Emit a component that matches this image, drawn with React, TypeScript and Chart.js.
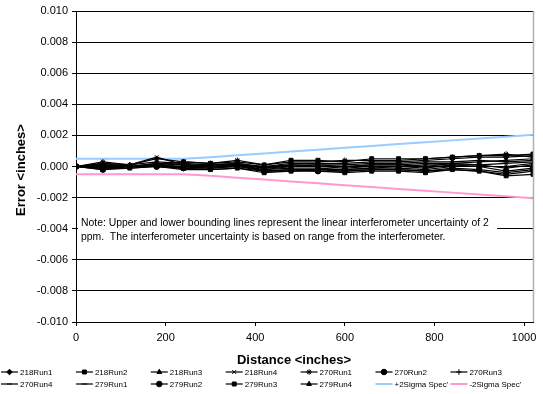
import React, { useEffect, useRef } from 'react';
import { Chart, registerables } from 'chart.js';
import { drawPoint } from 'chart.js/helpers';

Chart.register(...registerables);

const distances = [0, 60, 120, 180, 240, 300, 360, 420, 480, 540, 600, 660, 720, 780, 840, 900, 960, 1020];

const run218_1 = [0, 0.0001, 0, 0.0002, 0.0001, 0.0001, 0.0002, 0, 0.0002, 0.0002, 0.0002, 0.0003, 0.0003, 0.0004, 0.0005, 0.0006, 0.0006, 0.0007];
const run218_2 = [0, -0.0001, 0, 0.0001, 0.0003, 0.0002, 0.0003, 0.0001, 0.0004, 0.0004, 0.0003, 0.0005, 0.0005, 0.0005, 0.0006, 0.0007, 0.0007, 0.0008];
const run218_3 = [0, 0.0002, 0.0001, 0.0003, 0.0002, 0.0001, 0.0002, -0.0001, 0.0001, 0.0001, 0, 0.0001, 0.0001, 0.0002, 0.0002, 0.0003, 0.0004, 0.0005];
const run218_4 = [0, 0, 0.0001, 0.0006, 0.0001, 0, 0.0001, -0.0002, 0, 0, -0.0001, 0, 0, 0.0001, 0.0001, 0.0001, 0.0002, 0.0003];
const run270_1 = [0, 0.0003, 0.0001, 0.0005, 0.0003, 0.0002, 0.0004, 0.0001, 0.0003, 0.0003, 0.0004, 0.0004, 0.0004, 0.0005, 0.0006, 0.0007, 0.0008, 0.0006];
const run270_2 = [0, -0.0002, 0, 0, -0.0001, 0, 0.0001, -0.0003, -0.0002, -0.0002, -0.0002, -0.0001, -0.0001, -0.0002, 0, 0, -0.0003, -0.0001];
const run270_3 = [0, 0.0001, 0, 0.0001, 0, -0.0001, 0, -0.0002, -0.0001, -0.0001, -0.0002, -0.0001, 0, -0.0001, 0.0001, 0, 0, 0.0002];
const run270_4 = [0, -0.0001, -0.0001, 0, -0.0002, -0.0002, -0.0001, -0.0003, -0.0003, -0.0002, -0.0003, -0.0002, -0.0002, -0.0003, -0.0002, -0.0003, -0.0005, -0.0003];
const run279_1 = [0, 0.0002, 0, 0.0001, 0, 0.0001, 0.0001, -0.0001, 0, 0.0001, 0.0001, 0.0002, 0.0002, 0.0003, 0.0003, 0.0004, 0.0003, 0.0004];
const run279_2 = [0, -0.0001, 0, 0, -0.0001, -0.0001, 0, -0.0003, -0.0002, -0.0003, -0.0003, -0.0002, -0.0002, -0.0003, -0.0001, -0.0002, -0.0004, -0.0002];
const run279_3 = [0, -0.0002, -0.0001, 0, -0.0001, -0.0002, -0.0001, -0.0004, -0.0003, -0.0003, -0.0004, -0.0003, -0.0003, -0.0004, -0.0002, -0.0003, -0.0006, -0.0005];
const run279_4 = [0, 0.0001, 0, 0.0002, 0.0001, 0, 0.0001, 0, 0.0001, 0, 0, 0.0001, 0.0001, 0, 0.0002, 0.0001, -0.0001, 0.0001];
const plusSigma = [0.0005, 0.0005, 0.0005, 0.0005, 0.0005, 0.0006, 0.00072, 0.00084, 0.00096, 0.00108, 0.0012, 0.00132, 0.00144, 0.00156, 0.00168, 0.0018, 0.00192, 0.00204];
const minusSigma = [-0.0005, -0.0005, -0.0005, -0.0005, -0.0005, -0.0006, -0.00072, -0.00084, -0.00096, -0.00108, -0.0012, -0.00132, -0.00144, -0.00156, -0.00168, -0.0018, -0.00192, -0.00204];

const runNames = ['218Run1', '218Run2', '218Run3', '218Run4', '270Run1', '270Run2', '270Run3', '270Run4', '279Run1', '279Run2', '279Run3', '279Run4'];
const runValues = [run218_1, run218_2, run218_3, run218_4, run270_1, run270_2, run270_3, run270_4, run279_1, run279_2, run279_3, run279_4];
const runStyles = ['rectRot', 'rect', 'triangle', 'crossRot', 'star', 'circle', 'cross', 'line', 'line', 'circle', 'rect', 'triangle'];
const sigmaNames = ['+2Sigma Spec\'', '-2Sigma Spec\''];
const sigmaColors = ['#99CCFF', '#FF99CC'];

const yRange = { min: -0.01, max: 0.01, step: 0.002 };
const xRange = { min: 0, max: 1020 };
const xTickValues = [0, 200, 400, 600, 800, 1000];

const noteLines = [
  'Note: Upper and lower bounding lines represent the linear interferometer uncertainty of 2',
  'ppm.  The interferometer uncertainty is based on range from the interferometer.',
];

const FONT = '"Liberation Sans", Arial, sans-serif';

const extrasPlugin = {
  id: 'extras',
  beforeDatasetsDraw(chart: any) {
    const ctx = chart.ctx;
    ctx.save();
    ctx.fillStyle = '#ffffff';
    ctx.fillRect(78, 214, 419, 31);
    ctx.fillStyle = '#000';
    ctx.font = `10.4px ${FONT}`;
    ctx.textBaseline = 'middle';
    ctx.textAlign = 'left';
    ctx.fillText(noteLines[0], 81, 223);
    ctx.fillText(noteLines[1], 81, 237);
    ctx.restore();
  },
  afterDraw(chart: any) {
    const ctx = chart.ctx;
    const a = chart.chartArea;
    ctx.save();
    ctx.strokeStyle = '#b0b0b0';
    ctx.lineWidth = 1.5;
    ctx.beginPath();
    ctx.moveTo(a.right + 0.5, a.top);
    ctx.lineTo(a.right + 0.5, a.bottom);
    ctx.stroke();

    ctx.fillStyle = '#000';
    ctx.font = `bold 13px ${FONT}`;
    ctx.textAlign = 'center';
    ctx.textBaseline = 'middle';
    ctx.fillText('Distance <inches>', 294, 360);
    ctx.save();
    ctx.translate(21, 170);
    ctx.rotate(-Math.PI / 2);
    ctx.fillText('Error <inches>', 0, 0);
    ctx.restore();

    // legend
    const items: any[] = [];
    runNames.forEach((n, i) => items.push({ name: n, style: runStyles[i], color: '#000', width: 1.2 }));
    sigmaNames.forEach((n, i) => items.push({ name: n, style: null, color: sigmaColors[i], width: 2 }));
    ctx.font = `8px ${FONT}`;
    ctx.textAlign = 'left';
    items.forEach((it, i) => {
      const col = i % 7;
      const row = Math.floor(i / 7);
      const x0 = 1 + col * 74.9;
      const y = 372 + row * 12;
      ctx.strokeStyle = it.color;
      ctx.lineWidth = it.width;
      ctx.beginPath();
      ctx.moveTo(x0, y);
      ctx.lineTo(x0 + 17, y);
      ctx.stroke();
      if (it.style) {
        ctx.fillStyle = '#000';
        ctx.strokeStyle = '#000';
        ctx.lineWidth = 1;
        drawPoint(ctx, { pointStyle: it.style, radius: 2.8, rotation: 0, borderWidth: 1 } as any, x0 + 8.5, y);
      }
      ctx.fillStyle = '#000';
      ctx.fillText(it.name, x0 + 19, y + 0.5);
    });
    ctx.restore();
  },
};

export default function App() {
  const ref = useRef<HTMLCanvasElement | null>(null);
  useEffect(() => {
    document.body.style.margin = '0';
    const canvas = ref.current!;
    const datasets: any[] = runNames.map((n, i) => ({
      label: n,
      data: distances.map((d, j) => ({ x: d, y: runValues[i][j] })),
      borderColor: '#000',
      backgroundColor: '#000',
      borderWidth: 1.2,
      pointStyle: runStyles[i],
      pointRadius: 2.8,
      pointBorderWidth: 1,
      pointBorderColor: '#000',
      pointBackgroundColor: '#000',
      tension: 0,
    }));
    sigmaNames.forEach((n, i) => {
      datasets.push({
        label: n,
        data: distances.map((d, j) => ({ x: d, y: (i === 0 ? plusSigma : minusSigma)[j] })),
        borderColor: sigmaColors[i],
        backgroundColor: sigmaColors[i],
        borderWidth: 2,
        pointRadius: 0,
        tension: 0,
      });
    });
    const chart = new Chart(canvas, {
      type: 'line',
      data: { datasets },
      plugins: [extrasPlugin],
      options: {
        responsive: false,
        animation: false,
        devicePixelRatio: 1,
        layout: { padding: { left: 0, right: 10, top: 11, bottom: 0 } },
        plugins: { legend: { display: false }, tooltip: { enabled: false } },
        scales: {
          x: {
            type: 'linear',
            min: xRange.min,
            max: xRange.max,
            afterFit: (s: any) => { s.height = 72; },
            afterBuildTicks: (s: any) => { s.ticks = xTickValues.map((v) => ({ value: v })); },
            grid: { drawOnChartArea: false, drawTicks: true, tickLength: 4, color: '#000' },
            border: { color: '#000', width: 1 },
            ticks: {
              maxRotation: 0,
              autoSkip: false,
              padding: 5,
              color: '#000',
              font: { family: FONT, size: 11 },
              callback: (v: any) => String(v),
            },
          },
          y: {
            type: 'linear',
            min: yRange.min,
            max: yRange.max,
            afterFit: (s: any) => { s.width = 76; },
            grid: { color: '#000', tickLength: 4, lineWidth: 1 },
            border: { color: '#000', width: 1 },
            ticks: {
              stepSize: yRange.step,
              padding: 4,
              color: '#000',
              font: { family: FONT, size: 11 },
              callback: (v: any) => Number(v).toFixed(3),
            },
          },
        },
      },
    });
    return () => chart.destroy();
  }, []);
  return (
    <div style={{ position: 'absolute', left: 0, top: 0, width: 543, height: 394, background: '#fff' }}>
      <canvas ref={ref} width={543} height={394} style={{ width: 543, height: 394, display: 'block' }} />
    </div>
  );
}
